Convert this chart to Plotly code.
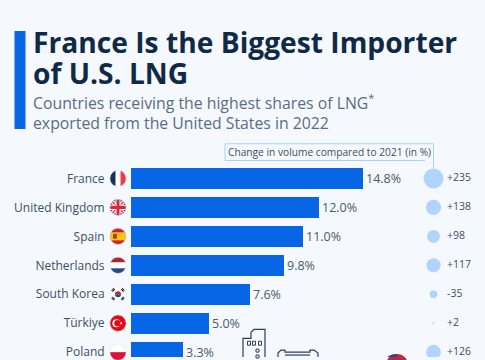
import plotly.graph_objects as go
import base64

countries = ["France", "United Kingdom", "Spain", "Netherlands", "South Korea", "Türkiye", "Poland"]
shares = [14.8, 12.0, 11.0, 9.8, 7.6, 5.0, 3.3]
changes = [235, 138, 98, 117, -35, 2, 126]
change_labels = ["+235", "+138", "+98", "+117", "-35", "+2", "+126"]

W, H = 485, 360
L, T = 131, 160
PW, PH = W - L, H - T
UX = 231.5 / 14.8      # px per percent
UY = 29.4              # px per row
Y0 = 178.7             # px centre of first row

def xv(p): return (p - L) / UX
def yv(p): return (p - Y0) / UY
def px(p): return (p - L) / PW
def py(p): return 1 - (p - T) / PH

def svg(body):
    s = ('<svg xmlns="http://www.w3.org/2000/svg" width="34" height="34" viewBox="0 0 34 34">'
         '<defs><clipPath id="c"><circle cx="17" cy="17" r="16"/></clipPath></defs>'
         f'<g clip-path="url(#c)">{body}</g>'
         '<circle cx="17" cy="17" r="16" fill="none" stroke="#dfe3ea" stroke-width="1"/></svg>')
    return "data:image/svg+xml;base64," + base64.b64encode(s.encode()).decode()

flags = [
    svg('<rect width="34" height="34" fill="#fff"/><rect width="12" height="34" fill="#16305f"/><rect x="22" width="12" height="34" fill="#ee3a43"/>'),
    svg('<rect width="34" height="34" fill="#24407f"/><path d="M0 0L34 34M34 0L0 34" stroke="#fff" stroke-width="7"/>'
        '<path d="M0 0L34 34M34 0L0 34" stroke="#d8283c" stroke-width="2.5"/>'
        '<path d="M17 0V34M0 17H34" stroke="#fff" stroke-width="10"/><path d="M17 0V34M0 17H34" stroke="#d8283c" stroke-width="6"/>'),
    svg('<rect width="34" height="34" fill="#d0202c"/><rect y="9" width="34" height="16" fill="#f8c31a"/><rect x="7" y="12" width="8" height="10" rx="2" fill="#9a4a1a"/>'),
    svg('<rect width="34" height="34" fill="#fff"/><rect width="34" height="11" fill="#ab2435"/><rect y="23" width="34" height="11" fill="#27468c"/>'),
    svg('<rect width="34" height="34" fill="#fff"/><path d="M11 17a6 6 0 0 1 12 0z" fill="#d0202c"/><path d="M11 17a6 6 0 0 0 12 0z" fill="#21468b"/>'
        '<g stroke="#222" stroke-width="2"><path d="M4 10L9 5M6 12L11 7M25 5L30 10M23 7L28 12M4 24L9 29M6 22L11 27M25 29L30 24M23 27L28 22"/></g>'),
    svg('<rect width="34" height="34" fill="#e30a17"/><circle cx="14" cy="17" r="8" fill="#fff"/><circle cx="16" cy="17" r="6.4" fill="#e30a17"/><path d="M20 17l6-2.5-3.5 5v-5l3.5 5z" fill="#fff"/>'),
    svg('<rect width="34" height="17" fill="#fff"/><rect y="17" width="34" height="17" fill="#dc143c"/>'),
]

BG = "#f5f8fc"
BLUE = "#0666e6"
BUBBLE = "#93c5fd"
TXT = "#3d4f66"
NAVY = "#0f2a47"
SANS = "Open Sans"
BUBBLE_X = xv(433.5)
LABEL_X = xv(447)

fig = go.Figure()
fig.add_bar(
    y=countries, x=shares, orientation="h", width=21 / UY,
    marker=dict(color=BLUE, line=dict(width=0)),
    text=[f"{v:.1f}%" for v in shares], textposition="outside", cliponaxis=False,
    textfont=dict(family=SANS, size=12.5, color="#4a5a6e"),
)
fig.add_scatter(
    y=countries, x=[BUBBLE_X] * len(countries), mode="markers",
    marker=dict(size=[abs(v) for v in changes], sizemode="area", sizeref=2 / 1.69,
                sizemin=1, color=BUBBLE, line=dict(width=0)),
)
fig.add_scatter(
    y=countries, x=[LABEL_X] * len(countries), mode="text", text=change_labels,
    textposition="middle right", textfont=dict(family=SANS, size=10.5, color=TXT),
)

shapes = [
    dict(type="rect", xref="paper", yref="paper", x0=px(14.5), x1=px(25.5), y0=py(128.5), y1=py(29),
         fillcolor="#0666e6", line_width=0),
    dict(type="path", xref="paper", yref="paper",
         path=f"M {px(425)} {py(160.5)} H {px(225)} V {py(143.5)} H {px(433.5)} V {py(168)}",
         line=dict(color="#a9d2fb", width=1)),
]
ICON = "#2a3f5c"
NOFILL = "rgba(0,0,0,0)"
def line(path):
    shapes.append(dict(type="path", xref="paper", yref="paper", path=path, line=dict(color=ICON, width=1.2)))
def box(x0, x1, y0, y1):
    shapes.append(dict(type="rect", xref="paper", yref="paper", x0=px(x0), x1=px(x1),
                       y0=py(y1), y1=py(y0), line=dict(color=ICON, width=1), fillcolor=NOFILL))
line(f"M {px(243)} {py(360)} V {py(341)} H {px(251)} V {py(335)} L {px(254)} {py(332)} H {px(265)} V {py(360)}")
for cx in (249, 254, 260):
    box(cx - 1.5, cx + 1.5, 344, 348)
box(256, 259, 352, 355)
box(256, 259, 358, 361)
line(f"M {px(278)} {py(360)} V {py(356)} L {px(281)} {py(353)} H {px(285)} V {py(355)} H {px(310)} V {py(353)} H {px(314)} L {px(318)} {py(356)} V {py(360)}")
line(f"M {px(285)} {py(358)} H {px(310)}")
shapes.append(dict(type="circle", xref="paper", yref="paper", x0=px(386), x1=px(408), y0=py(379), y1=py(357),
                   fillcolor="#c0283f", line_width=0))
shapes.append(dict(type="path", xref="paper", yref="paper",
                   path=f"M {px(387)} {py(360)} Q {px(391)} {py(357)} {px(397)} {py(357)} V {py(360)} Z",
                   fillcolor="#27468c", line_width=0))

def note(x, y, text, size, color, family=SANS, anchor="left"):
    return dict(xref="paper", yref="paper", x=px(x), y=py(y), text=text, showarrow=False,
                xanchor=anchor, yanchor="middle", align="left",
                font=dict(family=family, size=size, color=color))

annotations = [
    note(31, 40, "<b>France Is the Biggest Importer</b>", 28.2, NAVY),
    note(31, 72, "<b>of U.S. LNG</b>", 28.2, NAVY),
    note(31, 101.5, "Countries receiving the highest shares of LNG<sup>*</sup>", 15.8, "#5a6d85"),
    note(31, 122.5, "exported from the United States in 2022", 15.8, "#5a6d85"),
    note(226, 152, "Change in volume compared to 2021 (in %)", 10.2, TXT),
]

images = [
    dict(source=f, xref="paper", yref="paper", x=px(118), y=py(Y0 + UY * i),
         sizex=17.5 / PW, sizey=17.5 / PH,
         xanchor="center", yanchor="middle", sizing="contain", layer="above")
    for i, f in enumerate(flags)
]

fig.update_layout(
    width=W, height=H, autosize=False, showlegend=False,
    margin=dict(l=L, r=0, t=T, b=0, pad=0),
    paper_bgcolor=BG, plot_bgcolor=BG,
    shapes=shapes, annotations=annotations, images=images,
    bargap=0,
    xaxis=dict(range=[0, PW / UX], visible=False, fixedrange=True),
    yaxis=dict(type="category", categoryorder="array", categoryarray=countries,
               range=[yv(360), yv(160)], showgrid=False, zeroline=False, showline=False,
               ticks="outside", ticklen=23, tickcolor="rgba(0,0,0,0)",
               tickfont=dict(family=SANS, size=12, color=TXT), fixedrange=True),
)
fig.write_html("out.html", config=dict(displayModeBar=False),
               post_script="document.body.style.margin='0';document.body.style.overflow='hidden';")
